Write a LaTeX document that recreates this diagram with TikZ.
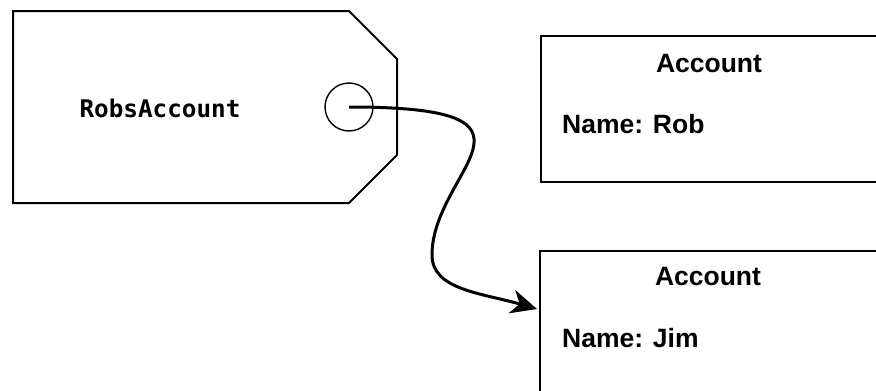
\documentclass[tikz,border=0pt]{standalone}
\usepackage{fontspec}
\setmainfont{Liberation Sans}
\newfontfamily\tagfont{DejaVu Sans Mono}
\usetikzlibrary{arrows.meta}

\begin{document}
\begin{tikzpicture}[x=1pt, y=-1pt, >={Stealth[length=26pt, width=24pt, inset=8pt]},
    line join=miter,
    account/.style={rectangle, draw, line width=2pt, inner sep=0pt,
        anchor=north west, minimum width=337pt, minimum height=146pt},
    label/.style={font=\fontsize{26.5}{30}\selectfont\bfseries, inner sep=0pt, anchor=base}]
    \useasboundingbox (0,0) rectangle (876,391);
    % the tag
    \draw[line width=2pt] (13,11) -- (349,11) -- (397,59) -- (397,155)
        -- (349,203) -- (13,203) -- cycle;
    \node[font=\tagfont\fontsize{24.3}{28}\selectfont\bfseries, anchor=base] (tagname) at (160,117) {RobsAccount};
    \node[circle, draw, line width=1.4pt, minimum size=48pt, inner sep=0pt] (hole) at (349,107) {};
    % the two accounts
    \node[account, minimum width=340pt] (rob) at (540,35) {};
    \node[label] (robtitle) at (709,72) {Account};
    \node[label, anchor=base west] (robname) at (562,133) {Name: Rob};
    \node[account] (jim) at (539,250) {};
    \node[label] (jimtitle) at (708,285) {Account};
    \node[label, anchor=base west] (jimname) at (562,347) {Name: Jim};
    % the reference
    \coordinate (bend) at (432,255);
    \coordinate (tip) at (537,309);
    \draw[line width=3pt, ->] (hole.center) .. controls +(220,0) and +(0,-85) .. (bend)
        .. controls +(0,35) and +(-55,-16) .. (tip);
\end{tikzpicture}
\end{document}
